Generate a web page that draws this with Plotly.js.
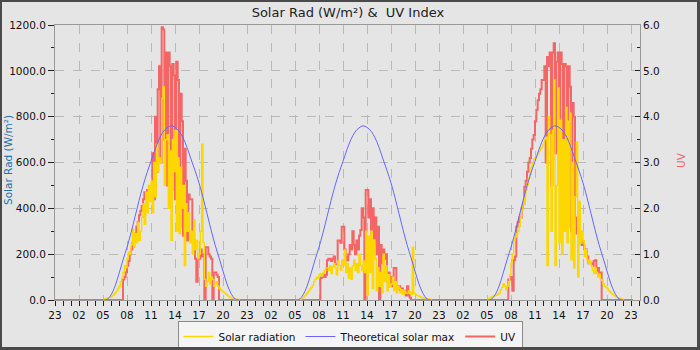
<!DOCTYPE html>
<html><head><meta charset="utf-8">
<script src="https://cdn.plot.ly/plotly-3.0.1.min.js"></script>
<style>
html,body{margin:0;padding:0;background:#e5e5e5;}
#wrap{position:relative;width:700px;height:350px;overflow:hidden;}
#chart{width:700px;height:350px;}
#frame{position:absolute;left:0;top:0;width:700px;height:350px;box-sizing:border-box;border-style:solid;border-color:#4a4a4a;border-width:2px 3px 3px 2px;pointer-events:none;}
</style></head><body>
<div id="wrap"><div id="chart"></div><div id="frame"></div></div>
<script>
// x axis: hours since 23:00 of the first day
const xTickHours = [0,3,6,9,12,15,18,21,24,27,30,33,36,39,42,45,48,51,54,57,60,63,66,69,72];
const xTickLabels = ["23","02","05","08","11","14","17","20","23","02","05","08","11","14","17","20","23","02","05","08","11","14","17","20","23"];

// Solar radiation (W/m²), 10-minute readings from 05:00 to 22:00 each day
const solarStartClock = 5.0;
const solarDay1 = [
 3,5,6,8,10,12,
 15,20,25,32,40,50,
 60,80,95,120,150,140,
 180,210,200,240,310,230,
 290,250,340,260,300,360,
 420,330,470,380,500,430,
 520,380,600,450,680,560,
 620,600,880,930,500,700,
 720,400,650,260,700,560,
 740,300,620,290,580,400,
 500,150,420,300,380,250,
 300,200,350,220,260,180,
 200,300,680,250,90,60,
 80,120,70,100,90,60,
 70,80,60,50,45,40,
 35,30,25,20,15,12,
 10,8,6,4,3,2,
 0];
const solarDay2 = [
 0,0,0,2,4,8,
 12,18,25,32,40,48,
 55,65,80,90,100,95,
 110,115,105,120,130,140,
 140,130,150,115,145,160,
 140,110,170,150,130,175,
 150,218,120,160,95,140,
 90,150,175,130,160,120,
 200,150,130,170,120,300,
 20,280,120,300,50,262,
 180,40,140,60,120,30,
 200,80,150,40,110,60,
 70,100,40,80,30,60,
 50,30,45,25,40,30,
 30,40,35,25,230,30,
 25,20,18,15,12,10,
 10,8,6,5,3,2,
 0];
const solarDay3 = [
 2,5,8,12,15,18,
 20,22,25,30,45,55,
 70,60,45,60,80,110,
 160,200,260,275,290,300,
 320,360,390,420,450,480,
 500,530,550,580,600,615,
 620,630,640,650,660,667,
 680,700,710,150,800,720,
 300,740,960,150,500,925,
 250,785,200,700,300,840,
 250,780,815,175,600,140,
 450,690,100,430,250,300,
 260,190,220,175,160,170,
 150,130,115,140,120,100,
 110,90,85,70,60,55,
 50,40,35,30,25,20,
 15,12,10,8,5,3,
 0];

// UV index, 10-minute readings from 07:00 to 20:00 each day
const uvStartClock = 7.0;
const uvDay1 = [
 0,0,0,0.45,0.5,0.6,
 0.75,0.85,1.0,1.1,1.25,1.35,
 1.45,1.6,1.7,1.85,1.95,2.05,
 2.2,2.35,2.2,2.4,2.3,2.25,
 2.4,3.2,2.2,4.0,2.8,4.6,
 5.1,3.0,5.95,5.9,3.5,5.4,
 2.5,5.4,5.1,2.4,5.15,4.9,
 2.2,5.2,4.8,1.6,4.5,3.9,
 1.4,3.3,2.6,1.3,2.3,2.2,
 2.2,1.45,1.3,0.9,0.4,0.9,
 0.9,1.1,0.95,1.0,0,1.15,
 1.15,1.0,0.95,0.9,0,0.6,
 0.6,0.55,0.5,0,0,0,
 0];
const uvDay2 = [
 0,0,0,0,0,0,
 0,0.48,0.5,0.55,0.5,0.55,
 0.87,0.9,0.9,0.85,0.9,0.95,
 0.78,0.78,1.3,1.3,1.25,1.6,
 1.6,1.1,0.95,0.87,1.0,1.2,
 1.1,1.5,1.2,1.0,1.3,1.1,
 1.4,1.53,2.0,1.8,0,2.4,
 2.4,1.8,2.2,1.3,2.0,1.2,
 1.8,1.0,1.6,0,1.2,0.8,
 1.1,0.9,1.0,0.4,0.6,0.3,
 0.5,0.3,0.7,0.7,0.3,0.25,
 0.3,0.2,0.25,0.15,0.2,0.1,
 0.3,0.1,0.05,0,0,0,
 0];
const uvDay3 = [
 0,0,0,0,0.45,0.45,
 0.5,0.2,0.87,0.95,1.6,1.7,
 1.8,1.8,2.0,2.1,2.47,2.6,
 2.8,3.0,3.1,3.3,3.5,3.6,
 3.9,4.15,4.36,4.5,4.6,4.8,
 4.8,5.1,3.0,5.3,5.1,5.4,
 2.5,5.4,5.6,3.2,5.2,5.4,
 2.8,5.4,5.15,2.0,5.15,5.1,
 1.6,5.1,4.65,1.5,4.3,4.0,
 1.8,1.45,1.6,1.4,1.3,1.2,
 1.2,1.1,1.1,0.95,0.8,0.8,
 0.8,0.75,0.85,0.87,0.6,0.7,
 0.6,0.6,0,0,0,0,
 0];
const uvNightStartHour = 0;
const uvNightEndHour = 72.25;

// Theoretical solar max (W/m²), half-hourly from 05:00 to 22:00 (same each day)
const theoStartClock = 5.0;
const theoMaxDay = [0,2,22,60,115,175,230,293,363,433,498,555,605,657,701,733,751,760,753,737,708,666,615,565,511,447,377,307,242,185,126,70,29,5,0];

const FONT = 'DejaVu Sans, Verdana, sans-serif';
const STEP10 = 1/6;

function daySeries(dayIndex, startClock, step, values){
  const xs = [], ys = [];
  values.forEach((v,i)=>{ xs.push(startClock + 1 + 24*dayIndex + i*step); ys.push(v); });
  return {x: xs, y: ys};
}
function joinDays(parts, gap){
  let x=[], y=[];
  parts.forEach((p,k)=>{ if(k>0 && gap){x.push(null); y.push(null);} x = x.concat(p.x); y = y.concat(p.y); });
  return {x, y};
}

const solar = joinDays([solarDay1,solarDay2,solarDay3].map((d,i)=>daySeries(i,solarStartClock,STEP10,d)), true);
const theo = joinDays([0,1,2].map(i=>daySeries(i,theoStartClock,0.5,theoMaxDay)), true);
const uvParts = joinDays([uvDay1,uvDay2,uvDay3].map((d,i)=>daySeries(i,uvStartClock,STEP10,d)), false);
const uvX = [uvNightStartHour].concat(uvParts.x, [uvNightEndHour]);
const uvY = [0].concat(uvParts.y, [0]);

const traces = [
  {x: uvX, y: uvY, type:'scatter', mode:'lines', name:'UV', yaxis:'y',
   line:{color:'#f46666', width:2, shape:'hv'}, legendrank:3, hoverinfo:'skip'},
  {x: solar.x, y: solar.y, type:'scatter', mode:'lines', name:'Solar radiation', yaxis:'y2',
   line:{color:'#ffd700', width:1.4, shape:'hv'}, legendrank:1, connectgaps:false, hoverinfo:'skip'},
  {x: theo.x, y: theo.y, type:'scatter', mode:'lines', name:'Theoretical solar max', yaxis:'y2',
   line:{color:'#6666ff', width:1, shape:'spline'}, legendrank:2, connectgaps:false, hoverinfo:'skip'}
];

const gridCol = '#b9b9b9';
const layout = {
  width:700, height:350,
  paper_bgcolor:'#e5e5e5', plot_bgcolor:'#e5e5e5',
  margin:{l:55, r:60, t:25, b:50, pad:0},
  font:{family:FONT, size:10.5, color:'#111'},
  title:{text:'Solar Rad (W/m²) & \u00a0UV Index', x:0.497, xref:'container', xanchor:'center',
         y:1-12/350, yref:'container', yanchor:'middle', font:{family:FONT, size:13, color:'#222'}},
  showlegend:true,
  legend:{orientation:'h', x:0.5, xref:'container', xanchor:'center', y:1-321/350, yref:'container', yanchor:'top',
          bgcolor:'#f4f4f4', bordercolor:'#8a8a8a', borderwidth:1, font:{family:FONT, size:10.5, color:'#111'},
          itemwidth:30, traceorder:'normal'},
  xaxis:{range:[0,73.125], tickmode:'array', tickvals:xTickHours, ticktext:xTickLabels,
         ticks:'outside', ticklen:5, tickcolor:'#222', tickwidth:1,
         showline:true, linecolor:'#999', linewidth:1, mirror:true,
         showgrid:true, gridcolor:gridCol, griddash:'dash', gridwidth:1, zeroline:false,
         minor:{tickmode:'linear', tick0:0, dtick:1, ticks:'outside', ticklen:5, tickcolor:'#222', showgrid:false},
         tickfont:{family:FONT, size:10.5, color:'#111'}, fixedrange:true},
  yaxis:{range:[0,6], side:'right', tickmode:'linear', tick0:0, dtick:1, tickformat:'.1f',
         ticks:'inside', ticklen:5, tickcolor:'#222', showline:true, linecolor:'#999', linewidth:1,
         showgrid:true, gridcolor:gridCol, griddash:'dash', zeroline:false,
         minor:{tickmode:'linear', tick0:0, dtick:0.5, ticks:'inside', ticklen:3, tickcolor:'#222', showgrid:false},
         tickfont:{family:FONT, size:10.5, color:'#111'}, fixedrange:true},
  yaxis2:{range:[0,1200], overlaying:'y', side:'left', tickmode:'linear', tick0:0, dtick:200, tickformat:'.1f',
         ticks:'outside', ticklen:6, tickcolor:'#222', showline:true, linecolor:'#999', linewidth:1,
         showgrid:false, zeroline:false,
         minor:{tickmode:'linear', tick0:0, dtick:100, ticks:'outside', ticklen:3, tickcolor:'#222', showgrid:false},
         tickfont:{family:FONT, size:10.5, color:'#111'}, fixedrange:true},
  annotations:[
    {text:'Solar Rad (W/m²)', xref:'paper', yref:'paper', x:(8-55)/585, y:(300-160)/275, textangle:-90,
     showarrow:false, xanchor:'center', yanchor:'middle', font:{family:FONT, size:10.5, color:'#1f6fae'}},
    {text:'UV', xref:'paper', yref:'paper', x:(681-55)/585, y:(300-160)/275, textangle:-90,
     showarrow:false, xanchor:'center', yanchor:'middle', font:{family:FONT, size:10.5, color:'#f46666'}}
  ]
};

Plotly.newPlot('chart', traces, layout, {staticPlot:true, displayModeBar:false});
</script>
</body></html>
